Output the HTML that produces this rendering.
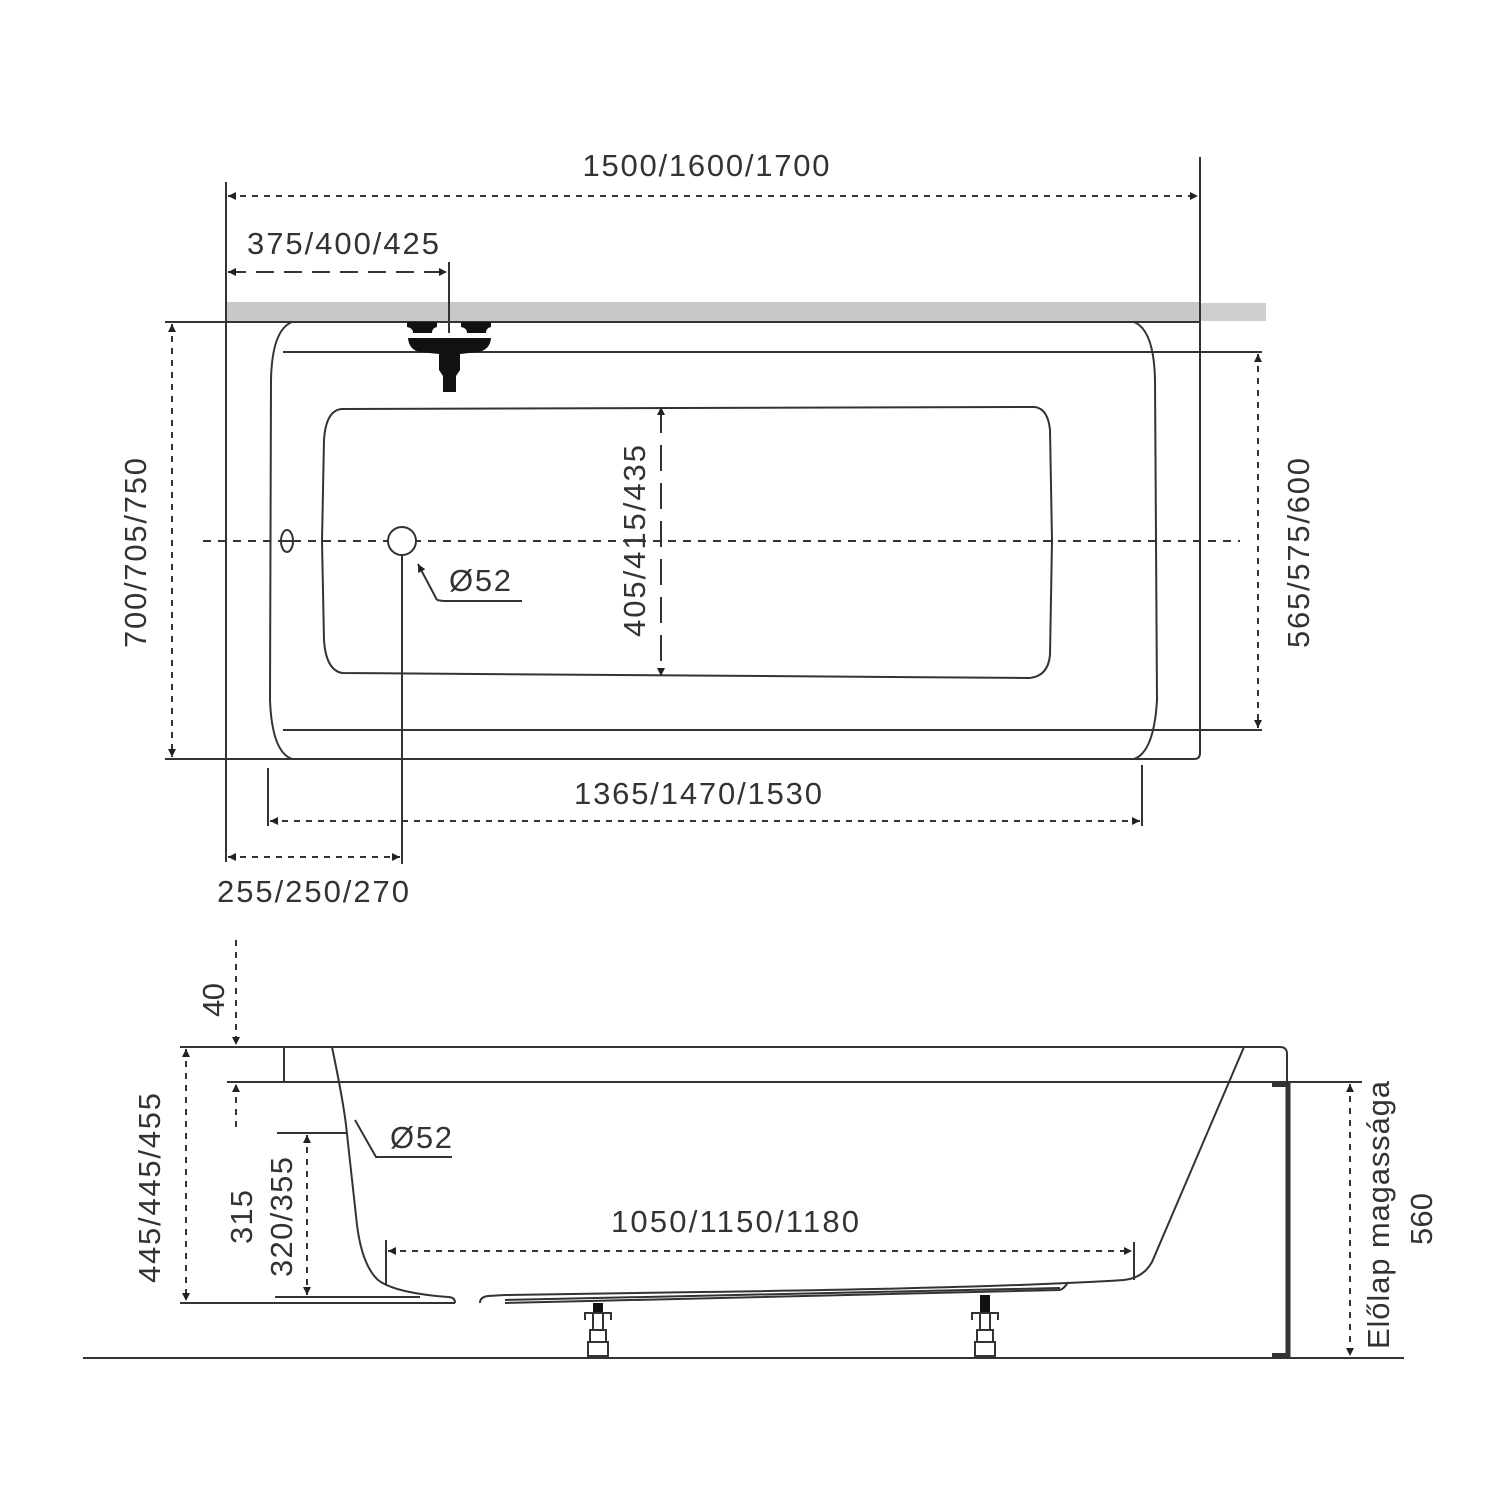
<!DOCTYPE html>
<html><head><meta charset="utf-8"><style>
html,body{margin:0;padding:0;background:#fff}
svg{display:block}
text{font-family:"Liberation Sans","DejaVu Sans",sans-serif;fill:#333;font-size:31px}
</style></head><body>
<svg width="1512" height="1512" viewBox="0 0 1512 1512" xmlns="http://www.w3.org/2000/svg">
<defs>
<marker id="a" viewBox="0 0 10 10" refX="10" refY="5" markerWidth="12" markerHeight="8" markerUnits="userSpaceOnUse" orient="auto-start-reverse"><path d="M0,0 L10,5 L0,10 z" fill="#222"/></marker>
</defs>
<g stroke="#333" fill="none" stroke-width="2">
<rect x="226" y="302" width="974" height="20" fill="#c8c8c8" stroke="none"/>
<rect x="1200" y="303" width="66" height="18" fill="#cfcfcf" stroke="none"/>
<line x1="226" y1="182" x2="226" y2="862"/>
<path d="M1200 157 V753 Q1200 759 1194 759"/>
<line x1="165" y1="322" x2="1200" y2="322"/>
<line x1="165" y1="759" x2="1194" y2="759"/>
<line x1="283" y1="352" x2="1262" y2="352"/>
<line x1="283" y1="730" x2="1262" y2="730"/>
<path d="M292 322 Q272 330 271 380 L270 700 Q272 752 292 759"/>
<path d="M1134 322 Q1154 330 1155 380 L1157 700 Q1154 752 1134 759"/>
<path d="M342 409 L1035 407 Q1048 409 1050 430 L1052 541 L1050 655 Q1048 676 1030 678 L342 673 Q326 670 324 640 L322 541 L324 440 Q326 410 342 409 Z"/>
<line x1="203" y1="541" x2="1240" y2="541" stroke-dasharray="8 7"/>
<ellipse cx="287" cy="541" rx="6" ry="11" fill="#fff"/>
<line x1="281" y1="541" x2="293" y2="541"/>
<circle cx="402" cy="541" r="14" fill="#fff"/>
<line x1="402" y1="555" x2="402" y2="864"/>
<line x1="437" y1="600" x2="418" y2="564" marker-end="url(#a)"/>
<polyline points="437,600 443,601 522,601"/>
<line x1="449" y1="262" x2="449" y2="333"/>
<line x1="228" y1="196" x2="1198" y2="196" stroke-dasharray="6 6" marker-start="url(#a)" marker-end="url(#a)"/>
<line x1="228" y1="272" x2="447" y2="272" stroke-dasharray="18 10" marker-start="url(#a)" marker-end="url(#a)"/>
<line x1="172" y1="324" x2="172" y2="757" stroke-dasharray="6 6" marker-start="url(#a)" marker-end="url(#a)"/>
<line x1="1258" y1="354" x2="1258" y2="728" stroke-dasharray="6 6" marker-start="url(#a)" marker-end="url(#a)"/>
<line x1="661" y1="407" x2="661" y2="676" stroke-dasharray="26 12" marker-start="url(#a)" marker-end="url(#a)"/>
<line x1="268" y1="768" x2="268" y2="826"/>
<line x1="1142" y1="765" x2="1142" y2="826"/>
<line x1="270" y1="821" x2="1140" y2="821" stroke-dasharray="6 6" marker-start="url(#a)" marker-end="url(#a)"/>
<line x1="228" y1="857" x2="400" y2="857" stroke-dasharray="6 6" marker-start="url(#a)" marker-end="url(#a)"/>

<path d="M180 1047 H1280 Q1287 1047 1287 1054 V1082"/>
<line x1="227" y1="1082" x2="1362" y2="1082"/>
<line x1="284" y1="1047" x2="284" y2="1082"/>
<line x1="180" y1="1303" x2="455" y2="1303"/>
<line x1="83" y1="1358" x2="1404" y2="1358"/>
<path d="M332 1047 Q343 1100 346 1125 L357 1225 Q362 1265 378 1280 Q395 1293 448 1297"/>
<path d="M1244 1047 L1152 1262 Q1143 1278 1124 1280 Q1000 1288 700 1292 L505 1295"/>
<path d="M448 1297 Q455 1297 455 1303"/>
<path d="M480 1303 Q480 1297 488 1296 L505 1295"/>
<path d="M505 1303 L1060 1290 Q1065 1288 1068 1282"/>
<path d="M505 1300 L1060 1288"/>
<line x1="277" y1="1133" x2="347" y2="1133"/>
<line x1="275" y1="1297" x2="420" y2="1297"/>
<polyline points="355,1120 376,1157 452,1157"/>
<line x1="1288" y1="1082" x2="1288" y2="1358" stroke-width="5"/>
<line x1="1272" y1="1085" x2="1288" y2="1085" stroke-width="4"/>
<line x1="1272" y1="1355" x2="1288" y2="1355" stroke-width="4"/>
<line x1="236" y1="940" x2="236" y2="1045" stroke-dasharray="6 6" marker-end="url(#a)"/>
<line x1="236" y1="1127" x2="236" y2="1084" stroke-dasharray="6 6" marker-end="url(#a)"/>
<line x1="186" y1="1049" x2="186" y2="1301" stroke-dasharray="6 6" marker-start="url(#a)" marker-end="url(#a)"/>
<line x1="307" y1="1135" x2="307" y2="1295" stroke-dasharray="6 6" marker-start="url(#a)" marker-end="url(#a)"/>
<line x1="386" y1="1240" x2="386" y2="1285"/>
<line x1="1134" y1="1242" x2="1134" y2="1280"/>
<line x1="388" y1="1251" x2="1132" y2="1251" stroke-dasharray="6 6" marker-start="url(#a)" marker-end="url(#a)"/>
<line x1="1350" y1="1084" x2="1350" y2="1356" stroke-dasharray="6 6" marker-start="url(#a)" marker-end="url(#a)"/>
</g>
<g fill="#111">
<path d="M407 322 H437 V327 Q432 328 432 333 H413 Q413 328 407 327 Z"/>
<path d="M461 322 H491 V327 Q486 328 486 333 H467 Q467 328 461 327 Z"/>
<path d="M408 338 H491 Q490 350 478 352 L460 354 V370 L456 376 V392 H443 V376 L439 370 V354 L420 352 Q409 350 408 338 Z"/>
</g>
<g id="leg" stroke="#333" stroke-width="2" fill="none">
<rect x="593" y="1303" width="10" height="9" fill="#111" stroke="none"/>
<path d="M585 1320 V1313 H611 V1320"/>
<path d="M593 1313 V1330 H603 V1313"/>
<rect x="590" y="1330" width="16" height="12"/>
<rect x="588" y="1342" width="20" height="14"/>
</g>
<use href="#leg" x="387" y="0"/>
<rect x="980" y="1295" width="10" height="9" fill="#111"/>
<text x="706" y="176" text-anchor="middle" textLength="247">1500/1600/1700</text>
<text x="343" y="254" text-anchor="middle" textLength="192">375/400/425</text>
<text x="698" y="804" text-anchor="middle" textLength="248">1365/1470/1530</text>
<text x="313" y="902" text-anchor="middle" textLength="192">255/250/270</text>
<text x="449" y="591" textLength="62">Ø52</text>
<text transform="translate(146,553) rotate(-90)" text-anchor="middle" textLength="190">700/705/750</text>
<text transform="translate(645,541) rotate(-90)" text-anchor="middle" textLength="192">405/415/435</text>
<text transform="translate(1309,553) rotate(-90)" text-anchor="middle" textLength="190">565/575/600</text>
<text transform="translate(224,1000) rotate(-90)" text-anchor="middle" textLength="34">40</text>
<text transform="translate(160,1188) rotate(-90)" text-anchor="middle" textLength="190">445/445/455</text>
<text transform="translate(252,1217) rotate(-90)" text-anchor="middle" textLength="54">315</text>
<text transform="translate(292,1217) rotate(-90)" text-anchor="middle" textLength="120">320/355</text>
<text x="390" y="1148" textLength="62">Ø52</text>
<text x="735" y="1232" text-anchor="middle" textLength="248">1050/1150/1180</text>
<text transform="translate(1389,1215) rotate(-90)" text-anchor="middle" textLength="268">Előlap magassága</text>
<text transform="translate(1432,1219) rotate(-90)" text-anchor="middle" textLength="52">560</text>
</svg>
</body></html>
